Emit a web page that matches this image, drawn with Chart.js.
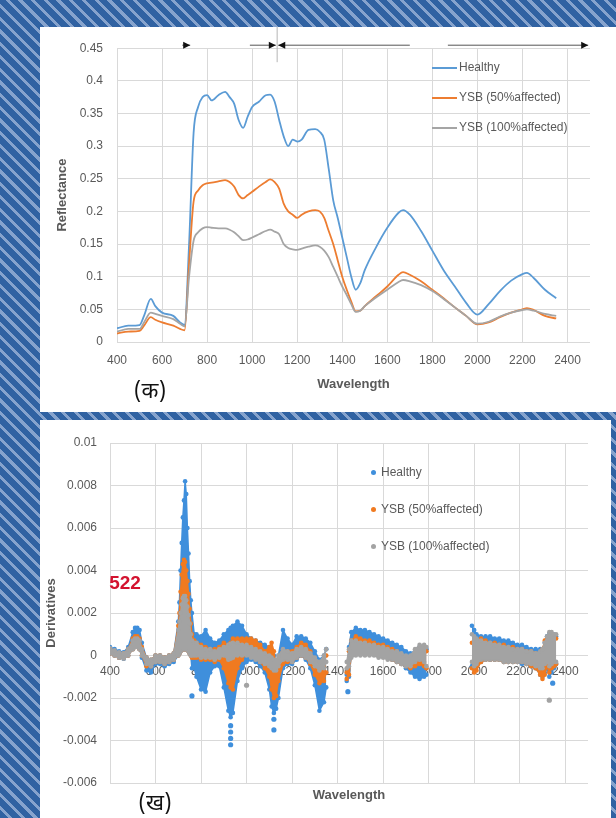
<!DOCTYPE html>
<html>
<head>
<meta charset="utf-8">
<script src="https://cdn.jsdelivr.net/npm/chart.js@4.4.0/dist/chart.umd.min.js"></script>
<style>
  html, body { margin: 0; padding: 0; }
  body {
    width: 616px; height: 818px; position: relative; overflow: hidden;
    background: repeating-linear-gradient(45deg, #3062a2 0px, #3062a2 6px, #86a3cd 6px, #86a3cd 9px);
    font-family: "Liberation Sans", Arial, sans-serif;
  }
  .panel { position: absolute; background: #fff; }
  #topPanel { left: 40px; top: 27px; width: 576px; height: 385px; }
  #bottomPanel { left: 40px; top: 420px; width: 571px; height: 398px; }
  canvas { position: absolute; left: 0; top: 0; }
  .lg { position: absolute; font-size: 12px; color: #595959; white-space: nowrap; height: 14px; line-height: 14px; }
  .lg .ln { display: inline-block; width: 25px; height: 2px; vertical-align: middle; margin-right: 2px; }
  .lg .dot { display: inline-block; width: 5px; height: 5px; border-radius: 50%; vertical-align: middle; margin-right: 5px; }
  .tag { position: absolute; font-family: "Noto Sans Devanagari", "Lohit Devanagari", "Noto Sans", sans-serif; font-size: 22px; color: #111; transform: translate(-50%, -50%); }
  #mark522 { position: absolute; font-size: 19px; font-weight: bold; color: #d3132f; transform: translate(-50%, -50%); }
</style>
</head>
<body>
<div class="panel" id="topPanel">
  <canvas id="reflChart" width="576" height="385"></canvas>
  <div class="tag" style="left:110px; top:365px">(क)</div>
</div>
<div class="panel" id="bottomPanel">
  <canvas id="derivChart" width="571" height="398"></canvas>
  <div id="mark522" style="left:85px; top:163px">522</div>
  <div class="tag" style="left:115px; top:384px">(ख)</div>
</div>
<script>
// series names and colours
const seriesNames = ["Healthy", "YSB (50%affected)", "YSB (100%affected)"];
const lineColors = ["#5b9bd5", "#ed7d31", "#a5a5a5"];
const dotColors = ["#3f8fdc", "#f07a20", "#a3a3a3"];

// ---- (क) reflectance spectra ----
const wavelengths = [400, 450, 500, 520, 550, 570, 600, 650, 680, 700, 720, 740, 760, 780, 800, 820, 850, 880, 900, 920,
  940, 960, 980, 1000, 1030, 1060, 1080, 1100, 1120, 1140, 1160, 1180, 1200, 1220, 1250, 1280, 1300, 1320, 1340, 1360,
  1380, 1400, 1420, 1440, 1460, 1480, 1500, 1550, 1600, 1650, 1670, 1700, 1750, 1800, 1850, 1900, 1950, 2000, 2050, 2100,
  2150, 2200, 2220, 2250, 2300, 2350];
const healthy = [0.021, 0.025, 0.026, 0.040, 0.066, 0.055, 0.045, 0.040, 0.030, 0.026, 0.150, 0.320, 0.360, 0.375, 0.378, 0.370, 0.378, 0.383, 0.375, 0.365,
  0.340, 0.328, 0.345, 0.360, 0.368, 0.378, 0.379, 0.368, 0.340, 0.315, 0.300, 0.310, 0.307, 0.310, 0.325, 0.326, 0.322, 0.310, 0.265, 0.217,
  0.190, 0.160, 0.130, 0.100, 0.080, 0.090, 0.110, 0.145, 0.175, 0.198, 0.202, 0.195, 0.170, 0.140, 0.110, 0.085, 0.060, 0.042, 0.058, 0.078,
  0.094, 0.104, 0.106, 0.098, 0.080, 0.067];
const ysb50 = [0.013, 0.016, 0.017, 0.025, 0.038, 0.034, 0.030, 0.025, 0.020, 0.018, 0.120, 0.215, 0.232, 0.240, 0.243, 0.244, 0.246, 0.248, 0.245, 0.238,
  0.225, 0.220, 0.225, 0.230, 0.238, 0.245, 0.249, 0.245, 0.235, 0.212, 0.200, 0.195, 0.190, 0.195, 0.200, 0.202, 0.200, 0.190, 0.170, 0.150,
  0.125, 0.100, 0.080, 0.062, 0.047, 0.048, 0.055, 0.070, 0.085, 0.103, 0.107, 0.103, 0.093, 0.080, 0.067, 0.053, 0.040, 0.027, 0.030, 0.038,
  0.045, 0.050, 0.052, 0.049, 0.040, 0.036];
const ysb100 = [0.016, 0.020, 0.020, 0.030, 0.045, 0.043, 0.040, 0.035, 0.028, 0.024, 0.100, 0.155, 0.168, 0.174, 0.176, 0.175, 0.174, 0.174, 0.172, 0.168,
  0.162, 0.156, 0.157, 0.160, 0.165, 0.170, 0.172, 0.169, 0.165, 0.150, 0.144, 0.142, 0.141, 0.143, 0.146, 0.148, 0.146, 0.140, 0.130, 0.115,
  0.100, 0.085, 0.072, 0.058, 0.046, 0.048, 0.055, 0.068, 0.080, 0.092, 0.095, 0.093, 0.087, 0.078, 0.066, 0.053, 0.040, 0.028, 0.031, 0.039,
  0.045, 0.049, 0.050, 0.048, 0.043, 0.040];
const reflTicks = { min: 0, max: 0.45, step: 0.05 };
const waveTicks = { min: 400, max: 2500, step: 200 };

// band arrows above the top plot: [from, to, arrowhead side]
const bandArrows = [[690, 725, "right"], [990, 1105, "right"], [1116, 1700, "left"], [1869, 2492, "right"]];
const bandDivider = 1111;

// ---- (ख) first derivative: upper / lower edge of each point cloud ----
const derivWl = [
  400, 420, 440, 460, 480, 500, 510, 520, 530, 540, 560, 580, 600, 620, 640, 660, 680, 700, 705, 710,
  715, 720, 725, 730, 735, 740, 745, 750, 755, 760, 770, 780, 800, 820, 840, 860, 880, 900, 920, 930,
  940, 960, 980, 1000, 1020, 1040, 1060, 1080, 1100, 1110, 1120, 1130, 1140, 1160, 1180, 1200, 1220, 1240, 1260, 1280,
  1300, 1320, 1340, 1350, 1400,
  1440, 1450, 1460, 1480, 1500, 1520, 1540, 1560, 1580, 1600, 1620, 1640, 1660, 1680, 1700, 1720, 1740, 1760, 1780, 1790,
  1900,
  1990, 2000, 2010, 2030, 2050, 2070, 2090, 2110, 2130, 2150, 2170, 2190, 2210, 2230, 2250, 2270, 2290, 2300, 2310, 2320,
  2330, 2340, 2350, 2360];
const healthyHi = [
  0.0004, 0.0003, 0.0002, 0.00015, 0.0004, 0.0011, 0.0013, 0.0013, 0.0012, 0.0006, -0.0001, -0.0002, 0, 0, -0.0001, 0, 0.0001, 0.0016, 0.0025, 0.004,
  0.0053, 0.0065, 0.0073, 0.0082, 0.0076, 0.006, 0.0048, 0.0035, 0.0026, 0.002, 0.001, 0.001, 0.0009, 0.0012, 0.0008, 0.0006, 0.0007, 0.001, 0.0012, 0.0013,
  0.0014, 0.0016, 0.0014, 0.001, 0.0008, 0.0007, 0.0006, 0.0005, 0.0004, 0.0002, 0, -0.0003, 0, 0.0012, 0.0008, 0.0005, 0.0009, 0.0009, 0.0008, 0.0006,
  0.0002, -0.0002, 0, 0.0003, null,
  -0.0009, 0.0004, 0.0011, 0.0013, 0.0012, 0.0012, 0.0011, 0.001, 0.0009, 0.0008, 0.0007, 0.0006, 0.0005, 0.0004, 0.0002, 0.0001, 0.0002, 0.0004, 0.0004, 0.0003,
  null,
  0.0014, 0.0012, 0.001, 0.0009, 0.0009, 0.0009, 0.0008, 0.0008, 0.0007, 0.0007, 0.0006, 0.0005, 0.0005, 0.0004, 0.0003, 0.0003, 0.0003, 0.0003, 0.0006, 0.0009,
  0.001, 0.001, 0.001, 0.0009];
const healthyLo = [
  0.0001, 0, -0.0001, -0.00015, 0, 0.0003, 0.0004, 0.0005, 0.0003, -0.0001, -0.0007, -0.0008, -0.0004, -0.0004, -0.0005, -0.0004, -0.0003, 0, 0.0001, 0.0002,
  0.0003, 0.0003, 0.0003, 0.0003, 0.0003, 0.0003, 0.0002, 0.0001, 0, -0.0006, -0.0006, -0.001, -0.0016, -0.0017, -0.0008, -0.0005, -0.0005, -0.0015, -0.0026, -0.0029,
  -0.0027, -0.0012, -0.0006, -0.0003, -0.0002, -0.0003, -0.0005, -0.0008, -0.0016, -0.0024, -0.0027, -0.0025, -0.002, -0.0006, -0.0004, -0.0004, -0.0002, 0, -0.0002, -0.0006,
  -0.0014, -0.0026, -0.0022, -0.0015, null,
  -0.0012, -0.001, 0, 0.0002, 0.0002, 0.0002, 0.0002, 0.0001, 0.0001, 0, -0.0001, -0.0002, -0.0003, -0.0004, -0.0006, -0.0008, -0.001, -0.0011, -0.001, -0.0009,
  null,
  -0.0005, -0.0006, -0.0005, -0.0003, -0.0002, -0.0002, -0.0002, -0.0002, -0.0003, -0.0003, -0.0003, -0.0003, -0.0004, -0.0004, -0.0005, -0.0006, -0.0009, -0.001, -0.0008, -0.0006,
  -0.001, -0.0008, -0.0006, -0.0004];
const ysb50Hi = [
  0.0003, 0.0002, 0.0001, 0.0001, 0.0003, 0.0008, 0.0009, 0.0009, 0.0008, 0.0004, -0.0001, -0.0002, 0, 0, -0.0001, 0, 0.0001, 0.0014, 0.002, 0.003,
  0.0038, 0.0043, 0.0045, 0.0044, 0.004, 0.0035, 0.0029, 0.0022, 0.0015, 0.001, 0.0007, 0.0006, 0.0005, 0.0004, 0.0003, 0.0003, 0.0004, 0.0006, 0.0005, 0.0006,
  0.0008, 0.0008, 0.0008, 0.0008, 0.0008, 0.0007, 0.0005, 0.0002, 0.0004, 0.0006, 0.0002, -0.0006, -0.0002, 0.0002, 0.0002, 0.0002, 0.0004, 0.0006, 0.0005, 0.0002,
  -0.0003, -0.0006, -0.0003, 0, null,
  -0.0008, 0.0002, 0.0007, 0.0009, 0.0008, 0.0007, 0.0007, 0.0006, 0.0005, 0.0005, 0.0004, 0.0003, 0.0002, 0, -0.0001, -0.0002, 0, 0.0003, 0.0003, 0.0002,
  null,
  0.0006, 0.0006, 0.0007, 0.0008, 0.0007, 0.0006, 0.0006, 0.0005, 0.0005, 0.0004, 0.0004, 0.0003, 0.0003, 0.0002, 0.0002, 0.0001, 0.0001, 0.0003, 0.0007, 0.0008,
  0.0009, 0.0009, 0.0008, 0.0008];
const ysb50Lo = [
  0.0001, 0, -0.0001, -0.0001, 0, 0.0003, 0.0004, 0.0004, 0.0003, 0, -0.0005, -0.0005, -0.0003, -0.0003, -0.0004, -0.0003, -0.0002, 0, 0.0001, 0.0002,
  0.0003, 0.0003, 0.0003, 0.0003, 0.0003, 0.0003, 0.0002, 0.0001, 0, -0.0001, -0.0001, -0.0001, -0.0002, -0.0002, -0.0002, -0.0003, -0.0002, -0.0006, -0.0013, -0.0015,
  -0.0016, -0.0006, -0.0002, 0.0001, 0.0002, 0, -0.0003, -0.0006, -0.001, -0.0016, -0.002, -0.0019, -0.0012, -0.0004, -0.0003, -0.0003, -0.0001, 0, -0.0001, -0.0004,
  -0.0009, -0.0013, -0.0012, -0.0008, null,
  -0.0011, -0.0009, 0, 0.0002, 0.0002, 0.0002, 0.0002, 0.0001, 0.0001, 0, -0.0001, -0.0002, -0.0003, -0.0004, -0.0005, -0.0006, -0.0005, -0.0004, -0.0005, -0.0006,
  null,
  -0.0006, -0.0008, -0.0007, -0.0003, -0.0002, -0.0002, -0.0002, -0.0002, -0.0003, -0.0003, -0.0003, -0.0003, -0.0003, -0.0004, -0.0005, -0.0006, -0.0009, -0.0011, -0.0009, -0.0005,
  -0.0008, -0.0006, -0.0005, -0.0004];
const ysb100Hi = [
  0.00035, 0.00025, 0.00015, 0.0001, 0.0003, 0.0007, 0.0008, 0.0008, 0.0007, 0.0003, -0.0001, -0.0002, 0, 0, -0.0001, 0, 0.0001, 0.0012, 0.0016, 0.002,
  0.0024, 0.0027, 0.0028, 0.0028, 0.0026, 0.0023, 0.0019, 0.0015, 0.001, 0.0007, 0.0006, 0.0006, 0.0004, 0.0003, 0.0003, 0.0002, 0.0003, 0.0004, 0.0005, 0.00055,
  0.0006, 0.0006, 0.0005, 0.0005, 0.0004, 0.0003, 0.0002, 0.0001, 0, -0.0001, -0.0002, -0.0002, 0, 0.0003, 0.0002, 0.0001, 0.0003, 0.0004, 0.0003, 0.0001,
  -0.0001, -0.0003, 0, 0.0003, null,
  -0.0003, 0.0003, 0.0007, 0.0007, 0.0006, 0.0006, 0.0005, 0.0005, 0.0004, 0.0004, 0.0003, 0.0002, 0.0002, 0.0001, 0, 0, 0.0003, 0.0005, 0.0005, 0.0004,
  null,
  0.001, 0.0009, 0.0008, 0.0007, 0.0006, 0.0006, 0.0005, 0.0005, 0.0004, 0.0004, 0.0003, 0.0003, 0.0003, 0.0002, 0.0002, 0.0001, 0.0002, 0.0003, 0.0006, 0.0009,
  0.0011, 0.0011, 0.001, 0.001];
const ysb100Lo = [
  0.0001, 0, -0.0001, -0.00015, 0, 0.0003, 0.0004, 0.0004, 0.0003, 0, -0.0004, -0.0005, -0.0003, -0.0003, -0.0004, -0.0003, -0.0002, 0, 0.0001, 0.0002,
  0.0003, 0.0003, 0.0003, 0.0003, 0.0003, 0.0003, 0.0002, 0.0001, 0, 0, 0, 0, -0.0001, -0.0001, -0.0001, -0.0002, -0.0001, 0, -0.0002, -0.00015,
  -0.0001, 0, 0, 0, -0.0001, -0.0002, -0.0003, -0.0004, -0.0005, -0.0006, -0.0007, -0.0007, -0.0005, -0.0002, -0.0002, -0.0003, -0.0001, 0, -0.0001, -0.0003,
  -0.0005, -0.0007, -0.0006, -0.0003, null,
  -0.0006, -0.0005, -0.0001, 0, 0, 0, 0, 0, -0.0001, -0.0001, -0.0002, -0.0002, -0.0003, -0.0004, -0.0005, -0.0005, -0.0003, -0.0002, -0.0003, -0.0005,
  null,
  -0.0003, -0.0005, -0.0004, -0.0002, -0.0002, -0.0002, -0.0002, -0.0002, -0.0003, -0.0003, -0.0003, -0.0003, -0.0003, -0.0004, -0.0004, -0.0005, -0.0006, -0.0006, -0.0004, -0.0003,
  -0.0005, -0.0004, -0.0003, -0.0003];
// lone points away from the clouds
const healthyOutWl = [760, 930, 930, 930, 930, 1120, 1120, 1445, 2345];
const healthyOutVal = [-0.0019, -0.0033, -0.0036, -0.0039, -0.0042, -0.003, -0.0035, -0.0017, -0.0013];
const ysb50OutWl = [];
const ysb50OutVal = [];
const ysb100OutWl = [1000, 2330];
const ysb100OutVal = [-0.0014, -0.0021];
const derivTicks = { min: -0.006, max: 0.01, step: 0.002 };

Chart.defaults.font.family = "'Liberation Sans', Arial, sans-serif";
Chart.defaults.color = "#595959";

const fmt = v => String(+v.toFixed(4));
const gridColor = "#d9d9d9";

const bandArrowPlugin = {
  id: "bandArrows",
  afterDraw(chart) {
    const { ctx, chartArea } = chart;
    const x = chart.scales.x;
    const y = chartArea.top - 3;
    ctx.save();
    ctx.lineWidth = 1;
    bandArrows.forEach(([a, b, side]) => {
      const x1 = x.getPixelForValue(a), x2 = x.getPixelForValue(b);
      ctx.strokeStyle = "#555";
      ctx.beginPath(); ctx.moveTo(x1, y); ctx.lineTo(x2, y); ctx.stroke();
      const tip = side === "right" ? x2 : x1;
      const s = side === "right" ? -1 : 1;
      ctx.fillStyle = "#111";
      ctx.beginPath(); ctx.moveTo(tip, y); ctx.lineTo(tip + s * 7, y - 3.5); ctx.lineTo(tip + s * 7, y + 3.5); ctx.closePath(); ctx.fill();
    });
    const xd = x.getPixelForValue(bandDivider);
    ctx.strokeStyle = "#b5b5b5";
    ctx.beginPath(); ctx.moveTo(xd, 0); ctx.lineTo(xd, chartArea.top + 14); ctx.stroke();
    ctx.restore();
  }
};

const reflSeries = [healthy, ysb50, ysb100];
new Chart(document.getElementById("reflChart"), {
  type: "line",
  data: {
    datasets: reflSeries.map((vals, k) => ({
      label: seriesNames[k],
      data: wavelengths.map((w, i) => ({ x: w, y: vals[i] })),
      borderColor: lineColors[k],
      borderWidth: 1.8,
      pointRadius: 0,
      cubicInterpolationMode: "monotone",
      order: 2 - k
    }))
  },
  options: {
    responsive: false,
    animation: false,
    events: [],
    layout: { padding: { left: 0, right: 26, top: 21, bottom: 0 } },
    plugins: { legend: { display: false }, tooltip: { enabled: false } },
    scales: {
      x: {
        type: "linear", min: waveTicks.min, max: waveTicks.max,
        ticks: { stepSize: waveTicks.step, includeBounds: false, autoSkip: false, maxRotation: 0, padding: 11, font: { size: 12 }, callback: fmt },
        grid: { color: gridColor, drawTicks: false },
        border: { display: false },
        title: { display: true, text: "Wavelength", font: { size: 13, weight: "bold" }, padding: { top: 0, bottom: 20 } },
        afterFit: s => { s.height = 70; }
      },
      y: {
        min: reflTicks.min, max: reflTicks.max,
        ticks: { stepSize: reflTicks.step, padding: 14, font: { size: 12 }, callback: fmt },
        grid: { color: gridColor, drawTicks: false },
        border: { display: false },
        title: { display: true, text: "Reflectance", font: { size: 13, weight: "bold" }, padding: { top: 15 } },
        afterFit: s => { s.width = 77; }
      }
    }
  },
  plugins: [bandArrowPlugin]
});

// each cloud = filled band between its upper and lower edge, plus the lone points
const derivHi = [healthyHi, ysb50Hi, ysb100Hi];
const derivLo = [healthyLo, ysb50Lo, ysb100Lo];
const derivOutWl = [healthyOutWl, ysb50OutWl, ysb100OutWl];
const derivOutVal = [healthyOutVal, ysb50OutVal, ysb100OutVal];
const toPts = vals => derivWl.map((w, i) => ({ x: w, y: vals[i] }));

const derivDatasets = [];
seriesNames.forEach((name, k) => {
  const c = dotColors[k];
  const common = {
    type: "line", showLine: true, spanGaps: false, borderColor: c, backgroundColor: c,
    borderWidth: 1.5, pointRadius: 2.3, pointBorderWidth: 0, tension: 0, order: 2 - k
  };
  derivDatasets.push({ ...common, label: name, data: toPts(derivHi[k]), fill: "+1" });
  derivDatasets.push({ ...common, label: name + " lo", data: toPts(derivLo[k]), fill: false });
  derivDatasets.push({
    ...common, label: name + " pts", showLine: false, fill: false, pointRadius: 2.6,
    data: derivOutWl[k].map((w, i) => ({ x: w, y: derivOutVal[k][i] }))
  });
});

new Chart(document.getElementById("derivChart"), {
  type: "scatter",
  data: { datasets: derivDatasets },
  options: {
    responsive: false,
    animation: false,
    events: [],
    layout: { padding: { left: 0, right: 23, top: 23, bottom: 0 } },
    plugins: { legend: { display: false }, tooltip: { enabled: false }, filler: { propagate: false } },
    scales: {
      x: {
        type: "linear", min: waveTicks.min, max: waveTicks.max,
        ticks: { display: false, stepSize: waveTicks.step, includeBounds: false },
        grid: { color: gridColor, drawTicks: false },
        border: { display: false },
        title: { display: true, text: "Wavelength", font: { size: 13, weight: "bold" }, padding: { top: 0, bottom: 15 } },
        afterFit: s => { s.height = 35; }
      },
      x2: {
        axis: "x", type: "linear", position: { y: 0 }, min: waveTicks.min, max: waveTicks.max,
        ticks: { stepSize: waveTicks.step, includeBounds: false, autoSkip: false, maxRotation: 0, padding: 9, font: { size: 12 }, callback: fmt },
        grid: { display: false, drawTicks: false },
        border: { display: false }
      },
      y: {
        min: derivTicks.min, max: derivTicks.max,
        ticks: { stepSize: derivTicks.step, padding: 13, font: { size: 12 }, callback: fmt },
        grid: { color: gridColor, drawTicks: false },
        border: { display: false },
        title: { display: true, text: "Derivatives", font: { size: 13, weight: "bold" }, padding: { top: 4 } },
        afterFit: s => { s.width = 70; }
      }
    }
  }
});

// legends drawn inside the plot areas, like the original
function addLegend(panelId, kind, xs, ys) {
  const panel = document.getElementById(panelId);
  seriesNames.forEach((name, k) => {
    const row = document.createElement("div");
    row.className = "lg";
    row.style.left = xs + "px";
    row.style.top = (ys[k] - 7) + "px";
    const sw = document.createElement("span");
    sw.className = kind;
    sw.style.background = kind === "ln" ? lineColors[k] : dotColors[k];
    row.appendChild(sw);
    row.appendChild(document.createTextNode(name));
    panel.appendChild(row);
  });
}
addLegend("topPanel", "ln", 392, [40, 70, 100]);
addLegend("bottomPanel", "dot", 331, [52, 89, 126]);
</script>
</body>
</html>
